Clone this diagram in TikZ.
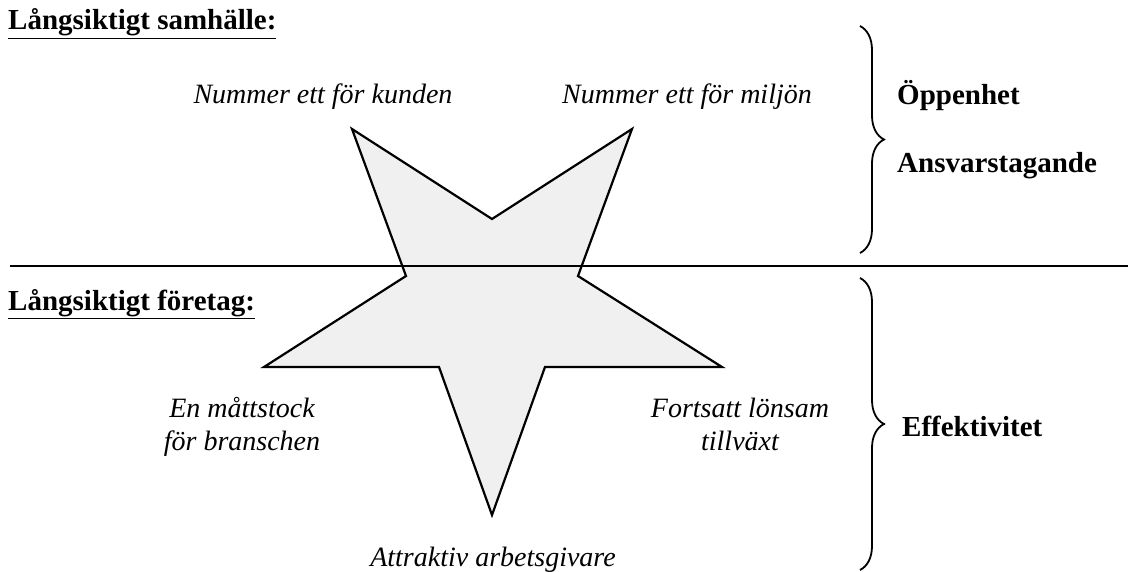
\documentclass[tikz,border=0pt]{standalone}
\usepackage{fontspec}
\setmainfont{Liberation Serif}[
	ItalicFont={Liberation Serif Italic},
	BoldFont={Liberation Serif Bold}]
\usepackage{xcolor}
\usepackage{tikz}
\usetikzlibrary{
	decorations.pathreplacing,
	positioning
}
\definecolor{StarGray}{RGB}{240,240,240}

\begin{document}
\begin{tikzpicture}[x=1pt,y=-1pt,
		lbl/.style={font=\fontsize{28}{33}\selectfont\itshape,align=center,anchor=base,inner sep=0pt},
		hdr/.style={font=\fontsize{29}{33}\selectfont\bfseries,anchor=base west,inner sep=0pt},
		val/.style={font=\fontsize{29}{33}\selectfont\bfseries,anchor=base west,inner sep=0pt},
		brc/.style={decorate,decoration={brace,amplitude=24pt},line width=1.8pt}]
		\useasboundingbox (0,0) rectangle (1128,572);
		% star points
		\coordinate (Ptl) at (352,129);
		\coordinate (Itop) at (492,219);
		\coordinate (Ptr) at (632,129);
		\coordinate (Iur) at (578,276);
		\coordinate (Pr) at (722,367);
		\coordinate (Ilr) at (545,367);
		\coordinate (Pb) at (492,515);
		\coordinate (Ill) at (439,367);
		\coordinate (Pl) at (264,367);
		\coordinate (Iul) at (406,276);
		\draw[line width=2.2pt,fill=StarGray,line join=miter] (Ptl)--(Itop)--(Ptr)--(Iur)--(Pr)--(Ilr)--(Pb)--(Ill)--(Pl)--(Iul)--cycle;
		% dividing line
		\coordinate (Lw) at (10,266);
		\coordinate (Le) at (1128,266);
		\draw[line width=2.4pt] (Lw)--(Le);
		% headings
		\node[hdr] (samhalle) at (8,30) {\underline{Långsiktigt samhälle:}};
		\node[hdr] (foretag) at (8,310) {\underline{Långsiktigt företag:}};
		% star labels
		\node[lbl] (kunden) at (323,104) {Nummer ett för kunden};
		\node[lbl] (miljon) at (687,104) {Nummer ett för miljön};
		\node[lbl] (bransch) at (242,450) {En måttstock\\för branschen};
		\node[lbl] (tillvaxt) at (740,450) {Fortsatt lönsam\\tillväxt};
		\node[lbl] (arbete) at (493,566) {Attraktiv arbetsgivare};
		% braces
		\coordinate (Bta) at (860,26);
		\coordinate (Btb) at (860,253);
		\coordinate (Bba) at (860,278);
		\coordinate (Bbb) at (860,570);
		\draw[brc] (Bta)--(Btb);
		\draw[brc] (Bba)--(Bbb);
		\node[val] (oppen) at (897,105) {Öppenhet};
		\node[val] (ansvar) at (897,173) {Ansvarstagande};
		\node[val] (effekt) at (902,436) {Effektivitet};
	\end{tikzpicture}
\end{document}
